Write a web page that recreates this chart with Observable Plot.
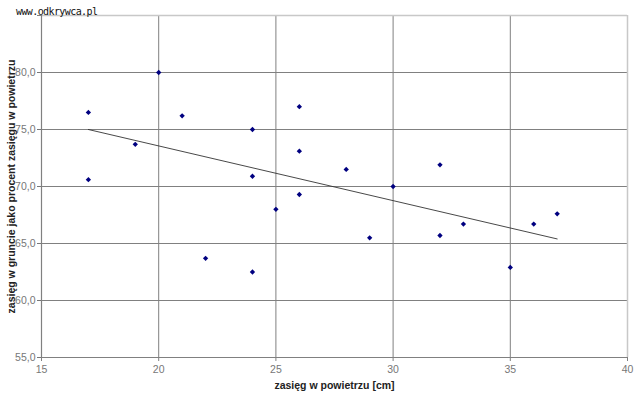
<!DOCTYPE html>
<html>
<head>
<meta charset="utf-8">
<script src="https://cdn.jsdelivr.net/npm/d3@7"></script>
<script src="https://cdn.jsdelivr.net/npm/@observablehq/plot@0.6"></script>
<style>
  html, body { margin: 0; padding: 0; background: #fff; }
  #chart { position: relative; width: 640px; height: 399px; }
  #wm { position: absolute; left: 16px; top: 6px; font: 10px "DejaVu Sans Mono", monospace; color: #111; letter-spacing: -0.6px; }
  g[aria-label="x-axis label"] text, g[aria-label="y-axis label"] text { font-weight: bold; fill: #222; }
</style>
</head>
<body>
<div id="chart"><div id="wm">www.odkrywca.pl</div></div>
<script>
// Data
const airRange = [17, 20, 17, 19, 21, 24, 24, 26, 26, 28, 26, 25, 22, 24, 30, 32, 29, 32, 33, 35, 36, 37];
const groundPct = [76.5, 80.0, 70.6, 73.7, 76.2, 75.0, 70.9, 77.0, 73.1, 71.5, 69.3, 68.0, 63.7, 62.5, 70.0, 71.9, 65.5, 65.7, 66.7, 62.9, 66.7, 67.6];
const trendX = [17, 37];
const trendY = [75.0, 65.4];
const xTicks = [15, 20, 25, 30, 35, 40];
const yTicks = [55, 60, 65, 70, 75, 80, 85];
const yLabelTicks = [55, 60, 65, 70, 75, 80];
const xTitle = "zasięg w powietrzu [cm]";
const yTitle = "zasięg w gruncie jako procent zasięgu w powietrzu";

const points = airRange.map((x, i) => ({x, y: groundPct[i]}));
const trend = trendX.map((x, i) => ({x, y: trendY[i]}));
const fmtY = d => d.toFixed(1).replace(".", ",");

const plot = Plot.plot({
  width: 640,
  height: 399,
  marginLeft: 41,
  marginRight: 13,
  marginTop: 15,
  marginBottom: 42,
  style: {fontFamily: "'Liberation Sans', Arial, sans-serif", fontSize: "10.5px", background: "white"},
  x: {domain: [15, 40]},
  y: {domain: [55, 85]},
  marks: [
    // inner grid
    Plot.ruleX(xTicks.filter(d => d > 15 && d < 40), {stroke: "#808080", strokeWidth: 1, strokeOpacity: 1}),
    Plot.ruleY(yTicks.filter(d => d > 55 && d < 85), {stroke: "#808080", strokeWidth: 1, strokeOpacity: 1}),
    // plot border top/right (lighter)
    Plot.ruleX([40], {stroke: "#c8c8c8", strokeWidth: 1.5}),
    Plot.ruleY([85], {stroke: "#c8c8c8", strokeWidth: 1.5}),
    // axes
    Plot.axisX({ticks: xTicks, tickSize: 4, tickPadding: 4, stroke: "#808080", color: "#777",
      label: xTitle, labelAnchor: "center", labelArrow: "none", labelOffset: 31}),
    Plot.axisY({ticks: yTicks, tickSize: 4, text: null, stroke: "#808080", label: null}),
    Plot.axisY({ticks: yLabelTicks, tickSize: 4, tickPadding: 2, tickFormat: fmtY, color: "#777",
      label: yTitle, labelAnchor: "center", labelArrow: "none", labelOffset: 34}),
    Plot.ruleX([15], {stroke: "#808080", strokeWidth: 1.2}),
    Plot.ruleY([55], {stroke: "#808080", strokeWidth: 1.2}),
    // trend line
    Plot.line(trend, {x: "x", y: "y", stroke: "#333", strokeWidth: 0.9}),
    // points
    Plot.dot(points, {x: "x", y: "y", symbol: "diamond2", r: 2.4, fill: "#000080", stroke: "none"})
  ]
});
document.getElementById("chart").prepend(plot);
</script>
</body>
</html>
